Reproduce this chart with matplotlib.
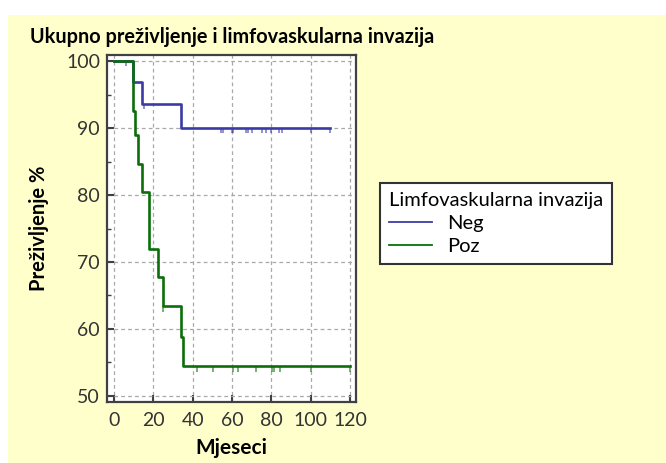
import numpy as np
import matplotlib.pyplot as plt
from matplotlib.patches import Rectangle
from matplotlib.lines import Line2D

# Kaplan-Meier steps
neg_time = [0, 9.8, 14.1, 34.0, 109.8]
neg_surv = [100, 96.9, 93.6, 90.0, 90.0]
neg_cens = [6.4, 15.3, 54.2, 55.6, 59.8, 60.3, 67.1, 68.1, 70.2, 75.2, 77.3,
            80.0, 84.0, 85.4, 100.3, 109.8]

poz_time = [0, 9.8, 10.7, 12.4, 14.1, 18.0, 22.6, 24.7, 33.9, 35.2, 120]
poz_surv = [100, 92.6, 88.9, 84.7, 80.5, 72.0, 67.7, 63.4, 58.8, 54.4, 54.4]
poz_cens = [25.1, 42.2, 50.2, 60.3, 63.2, 72.2, 80.2, 81.3, 84.4, 100, 120]

x_ticks = [0, 20, 40, 60, 80, 100, 120]
y_ticks = [50, 60, 70, 80, 90, 100]

blue = "#3b3ba6"
green = "#0b6e0b"
bg = "#ffffcc"
font = "Lato"


def surv_at(times, surv, t):
    idx = np.searchsorted(times, t, side="right") - 1
    return np.asarray(surv)[idx]


fig = plt.figure(figsize=(6.66, 4.63), dpi=100, facecolor="white")
fig.patches.append(Rectangle((8 / 666, 0), 1, 1 - 15 / 463, transform=fig.transFigure,
                             facecolor=bg, edgecolor="none", zorder=-10))

ax = fig.add_axes([107 / 666, 1 - 402 / 463, (356 - 107) / 666, (402 - 55) / 463])
ax.set_facecolor("white")

ax.step(neg_time, neg_surv, where="post", color=blue, lw=1.9, zorder=3)
ax.step(poz_time, poz_surv, where="post", color=green, lw=1.9, zorder=4)

tick_len = 0.8
ns = surv_at(neg_time, neg_surv, neg_cens)
ax.vlines(neg_cens, ns - tick_len, ns, color=blue, lw=1.1, alpha=0.7, zorder=3)
ps = surv_at(poz_time, poz_surv, poz_cens)
ax.vlines(poz_cens, ps - tick_len, ps, color=green, lw=1.1, alpha=0.7, zorder=4)

ax.set_xlim(-3.5, 123)
ax.set_ylim(49.1, 100.9)
ax.set_xticks(x_ticks)
ax.set_yticks(y_ticks)
ax.set_yticks(np.arange(55, 100, 10), minor=True)
ax.grid(True, which="major", color="#a8a8a8", ls=(0, (3, 2.5)), lw=0.9)
ax.tick_params(which="major", direction="in", length=5, width=1.5, color="#404040",
               labelsize=14, labelcolor="#333333", pad=5)
ax.tick_params(axis="x", which="major", pad=7)
ax.tick_params(which="minor", direction="in", length=3, width=1, color="#404040")
for t in ax.get_xticklabels() + ax.get_yticklabels():
    t.set_fontfamily(font)
for s in ax.spines.values():
    s.set_color("#404040")
    s.set_linewidth(1.6)

ax.set_xlabel("Mjeseci", fontsize=15, fontweight="bold", family=font, labelpad=7)
ax.set_ylabel("Preživljenje %", fontsize=14.5, fontweight="bold", family=font, labelpad=12)

fig.text(30 / 666, 1 - 37 / 463, "Ukupno preživljenje i limfovaskularna invazija",
         fontsize=14.3, fontweight="bold", family=font, va="center", ha="left")

handles = [Line2D([], [], color=blue, lw=1.3), Line2D([], [], color=green, lw=1.3)]
leg = fig.legend(handles, ["Neg", "Poz"], title="Limfovaskularna invazija",
                 loc="upper left", bbox_to_anchor=(380 / 666, 1 - 183 / 463),
                 frameon=True, fancybox=False, edgecolor="#333333", facecolor="white",
                 framealpha=1, prop={"family": font, "size": 14.5},
                 title_fontproperties={"family": font, "size": 14.5},
                 alignment="left", handlelength=2.15, handletextpad=0.75,
                 borderpad=0.45, labelspacing=0.3, borderaxespad=0)
leg.get_frame().set_linewidth(1.5)

fig.savefig("out.png", dpi=100, facecolor=fig.get_facecolor())
